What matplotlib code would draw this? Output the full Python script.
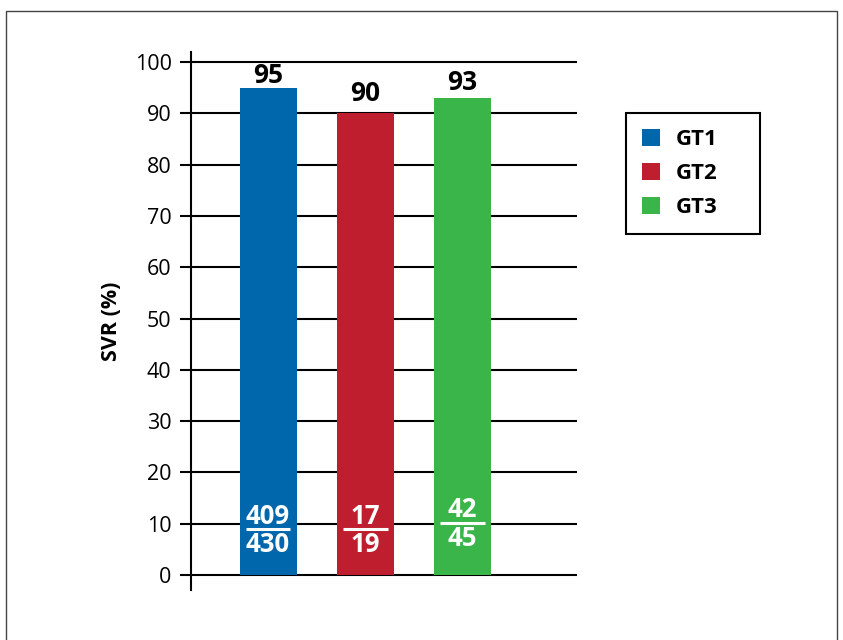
import matplotlib.pyplot as plt
from matplotlib.patches import Rectangle

plt.rcParams['font.family'] = ['Open Sans', 'DejaVu Sans']

genotypes = ['GT1', 'GT2', 'GT3']
svr = [95, 90, 93]
responders = [409, 17, 42]
treated = [430, 19, 45]
colors = ['#0067AC', '#BE1E2D', '#3AB54A']
yticks = [0, 10, 20, 30, 40, 50, 60, 70, 80, 90, 100]

fig = plt.figure(figsize=(8.43, 6.4), dpi=100)
ax = fig.add_axes([191 / 843, 1 - 590 / 640, (577 - 191) / 843, (590 - 52) / 640])

x = range(len(genotypes))
bars = ax.bar(x, svr, width=0.586, color=colors, zorder=2, label=genotypes)

# percentage above each bar
label_offsets = [9, 14, 11]
for xi, v, off in zip(x, svr, label_offsets):
    ax.annotate(f'{v}', (xi, v), xytext=(0, off), textcoords='offset points',
                ha='center', va='center', fontsize=19, fontweight='bold')

# n/N fraction inside each bar
frac_mid = [8.9, 8.9, 10.1]
for xi, n, d, m in zip(x, responders, treated, frac_mid):
    ax.text(xi, m + 2.6, f'{n}', ha='center', va='center', color='white',
            fontsize=18.5, fontweight='bold', zorder=4)
    ax.plot([xi - 0.23, xi + 0.23], [m, m], color='white', lw=2.2,
            solid_capstyle='butt', zorder=4)
    ax.text(xi, m - 3.0, f'{d}', ha='center', va='center', color='white',
            fontsize=18.5, fontweight='bold', zorder=4)

ax.set_xlim(-0.792, 3.177)
ax.set_ylim(-2.9, 101.95)
ax.set_yticks(yticks)
ax.set_xticks([])
ax.tick_params(axis='y', length=8, width=1.5, pad=6, labelsize=15.5)
ax.yaxis.grid(True, color='black', lw=1.5)
ax.set_axisbelow(True)
for s in ['top', 'right', 'bottom']:
    ax.spines[s].set_visible(False)
ax.spines['left'].set_linewidth(1.5)
ax.set_ylabel('SVR (%)', fontsize=15.5, fontweight='bold', labelpad=9)

leg = fig.legend(handles=list(bars), labels=genotypes, loc='upper left',
                 bbox_to_anchor=(626 / 843, 1 - 232 / 640, 134 / 843, 119 / 640),
                 mode='expand', borderaxespad=0, fancybox=False, framealpha=1,
                 edgecolor='black', prop={'size': 16, 'weight': 'bold'},
                 handlelength=0.82, handleheight=0.82, handletextpad=0.7,
                 labelspacing=0.56, borderpad=0.72)
leg.get_frame().set_linewidth(1.5)

# outer frame
fig.patches.append(Rectangle((6 / 843, -0.1), 831 / 843, 1.1 - 11 / 640,
                             transform=fig.transFigure, fill=False,
                             edgecolor='#444444', lw=1))

fig.savefig('out.png', dpi=100)
